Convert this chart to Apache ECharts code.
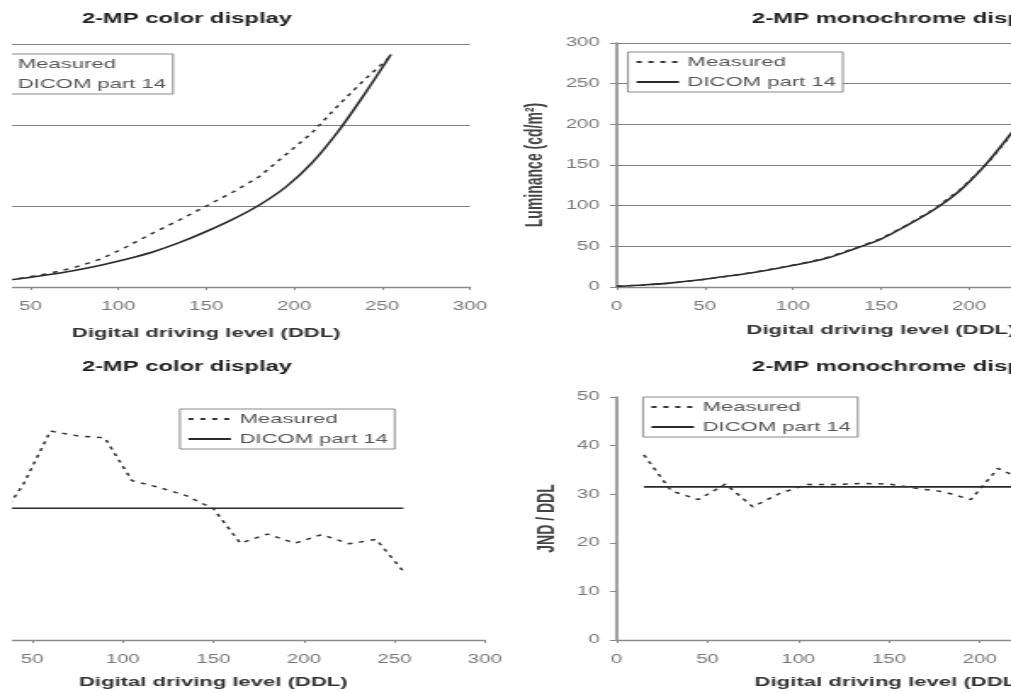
<!DOCTYPE html>
<html>
<head>
<meta charset="utf-8">
<title>2-MP displays: luminance and JND per DDL</title>
<script src="https://cdn.jsdelivr.net/npm/echarts@6/dist/echarts.min.js"></script>
<style>
  html, body { margin: 0; padding: 0; background: #fff; overflow: hidden; }
  /* the source figure is stretched sideways, so draw narrow and widen it */
  #chart { width: 595px; height: 692px; transform: scaleX(1.6992); transform-origin: 0 0; }
</style>
</head>
<body>
<div id="chart"></div>
<script>
// luminance (cd/m2), read every 15 DDL
const ddlColorLum = [30, 45, 60, 75, 90, 105, 120, 135, 150, 165, 180, 195, 210, 225, 240, 255];
const colorLumMeasured = [7, 11, 16.5, 24, 34.5, 50, 67, 83, 100, 117, 136, 163, 190, 224, 256, 285];
const colorLumDicom = [7.5, 10.5, 15, 20.5, 27, 34.5, 43.5, 55, 68.5, 83.5, 101, 123, 153, 192, 238, 287];

const ddlMonoLum = [0, 15, 30, 45, 60, 75, 90, 105, 120, 135, 150, 165, 180, 195, 210, 225];
const monoLumMeasured = [0.8, 2.4, 4.7, 8, 12.3, 17.2, 22.8, 29, 36.5, 47.5, 59.5, 76.5, 95.5, 120, 151, 190];
const monoLumDicom = [0.8, 2.5, 4.8, 8.2, 12.5, 17, 22.5, 28.5, 36, 47, 59, 76, 95, 119, 152, 192];

// JND / DDL
const ddlColorJnd = [30, 45, 60, 75, 90, 105, 120, 135, 150, 165, 180, 195, 210, 225, 240, 255];
const colorJndMeasured = [24, 32, 43, 42, 41.6, 32.8, 31.4, 29.7, 27, 19.9, 21.8, 19.9, 21.7, 19.8, 20.7, 14.1];
const colorJndDicom = [27.1, 27.1, 27.1, 27.1, 27.1, 27.1, 27.1, 27.1, 27.1, 27.1, 27.1, 27.1, 27.1, 27.1, 27.1, 27.1];

const ddlMonoJnd = [15, 30, 45, 60, 75, 90, 105, 120, 135, 150, 165, 180, 195, 210, 225];
const monoJndMeasured = [38.1, 30.7, 28.9, 32.1, 27.4, 30.2, 32, 32, 32.2, 32.1, 31.2, 30.5, 28.9, 35.3, 32.8];
const monoJndDicom = [31.5, 31.5, 31.5, 31.5, 31.5, 31.5, 31.5, 31.5, 31.5, 31.5, 31.5, 31.5, 31.5, 31.5, 31.5];

const titles = ["2-MP color display", "2-MP monochrome display", "2-MP color display", "2-MP monochrome display"];
const xName = "Digital driving level (DDL)";

const font = "Liberation Sans";
const grey = "#8a8a8a";

function pairs(xs, ys) {
  return xs.map((x, i) => [x, ys[i]]);
}

function xAxisFor(i, gap, hideZero) {
  return {
    gridIndex: i,
    type: "value",
    min: 0,
    max: 300,
    interval: 50,
    axisLine: { show: true, lineStyle: { color: grey, width: 1.3 } },
    axisTick: { show: true, length: 3, lineStyle: { color: grey } },
    axisLabel: { margin: 14, fontSize: 12, color: "#777", fontFamily: font, showMinLabel: !hideZero },
    splitLine: { show: false },
    name: xName,
    nameLocation: "middle",
    nameGap: gap,
    nameTextStyle: { fontFamily: font, fontSize: 13, fontWeight: "bold", color: "#333" },
  };
}

function measured(name, x, y, data) {
  return {
    name: name,
    type: "line",
    xAxisIndex: x,
    yAxisIndex: y,
    symbol: "none",
    itemStyle: { color: "#333" },
    lineStyle: { color: "#333", width: 1.5, type: [3, 4] },
    data: data,
  };
}

function dicom(name, x, y, data, smooth) {
  return {
    name: name,
    type: "line",
    xAxisIndex: x,
    yAxisIndex: y,
    symbol: "none",
    smooth: smooth,
    itemStyle: { color: "#2a2a2a" },
    lineStyle: { color: "#2a2a2a", width: 1.6, type: "solid" },
    data: data,
  };
}

const legendBase = {
  orient: "vertical",
  itemWidth: 25,
  itemHeight: 14,
  itemGap: 6,
  padding: [3, 4],
  backgroundColor: "#fff",
  borderColor: grey,
  borderWidth: 1,
  // line only, no marker in the key
  itemStyle: { opacity: 0 },
  textStyle: { fontFamily: font, fontSize: 13, lineHeight: 14, color: "#555" },
  data: ["Measured", "DICOM part 14"],
};

const titleStyle = { fontFamily: font, fontSize: 14, fontWeight: "bold", color: "#222" };

const chart = echarts.init(document.getElementById("chart"));
chart.setOption({
  animation: false,
  backgroundColor: "#fff",
  title: [
    { text: titles[0], left: 110, top: 12, textAlign: "center", padding: 0, textStyle: titleStyle },
    { text: titles[1], left: 442.6, top: 12, padding: 0, textStyle: titleStyle },
    { text: titles[2], left: 110, top: 360, textAlign: "center", padding: 0, textStyle: titleStyle },
    { text: titles[3], left: 442.6, top: 360, padding: 0, textStyle: titleStyle },
  ],
  legend: [
    Object.assign({}, legendBase, { right: 493.2, top: 54 }),
    Object.assign({}, legendBase, { left: 369.6, top: 52 }),
    Object.assign({}, legendBase, { left: 105.9, top: 409 }),
    Object.assign({}, legendBase, { left: 378.4, top: 397 }),
  ],
  grid: [
    { left: -33.84, top: 44, width: 310.4, height: 243, outerBoundsMode: "none" },
    { left: 362.9, top: 43, width: 311.1, height: 244, outerBoundsMode: "none" },
    { left: -34.25, top: 397, width: 319.6, height: 243, outerBoundsMode: "none" },
    { left: 362.9, top: 397, width: 320.6, height: 243, outerBoundsMode: "none" },
  ],
  xAxis: [
    xAxisFor(0, 40, true),
    xAxisFor(1, 37, false),
    xAxisFor(2, 35.5, true),
    xAxisFor(3, 35.5, false),
  ],
  yAxis: [
    {
      gridIndex: 0,
      type: "value",
      min: 0,
      max: 300,
      interval: 100,
      axisLine: { show: false },
      axisTick: { show: false },
      axisLabel: { show: false },
      splitLine: { show: true, lineStyle: { color: "#808080", width: 1.2 } },
    },
    {
      gridIndex: 1,
      type: "value",
      min: 0,
      max: 300,
      interval: 50,
      axisLine: { show: true, lineStyle: { color: grey, width: 1.6 } },
      axisTick: { show: true, length: 4, lineStyle: { color: grey } },
      axisLabel: { margin: 10, fontSize: 12, color: "#777", fontFamily: font },
      splitLine: { show: true, lineStyle: { color: "#808080", width: 1.2 } },
      name: "Luminance (cd/m²)",
      nameLocation: "middle",
      nameGap: 40,
      nameTextStyle: { fontFamily: font, fontSize: 14, fontWeight: "bold", color: "#444" },
    },
    {
      gridIndex: 2,
      type: "value",
      min: 0,
      max: 50,
      interval: 10,
      axisLine: { show: false },
      axisTick: { show: false },
      axisLabel: { show: false },
      splitLine: { show: false },
    },
    {
      gridIndex: 3,
      type: "value",
      min: 0,
      max: 50,
      interval: 10,
      axisLine: { show: true, lineStyle: { color: grey, width: 1.6 } },
      axisTick: { show: true, length: 4, lineStyle: { color: grey } },
      axisLabel: { margin: 10, fontSize: 12, color: "#777", fontFamily: font },
      splitLine: { show: false },
      name: "JND / DDL",
      nameLocation: "middle",
      nameGap: 31,
      nameTextStyle: { fontFamily: font, fontSize: 14, fontWeight: "bold", color: "#444" },
    },
  ],
  series: [
    dicom("DICOM part 14", 0, 0, pairs(ddlColorLum, colorLumDicom), 0.3),
    measured("Measured", 0, 0, pairs(ddlColorLum, colorLumMeasured)),
    dicom("DICOM part 14", 1, 1, pairs(ddlMonoLum, monoLumDicom), 0.3),
    measured("Measured", 1, 1, pairs(ddlMonoLum, monoLumMeasured)),
    dicom("DICOM part 14", 2, 2, pairs(ddlColorJnd, colorJndDicom), false),
    measured("Measured", 2, 2, pairs(ddlColorJnd, colorJndMeasured)),
    dicom("DICOM part 14", 3, 3, pairs(ddlMonoJnd, monoJndDicom), false),
    measured("Measured", 3, 3, pairs(ddlMonoJnd, monoJndMeasured)),
  ],
  // the left plots are cut off in the source, keep that white strip
  graphic: [
    { type: "rect", z: 100, shape: { x: 0, y: 0, width: 7.06, height: 692 }, style: { fill: "#fff" } },
  ],
});
</script>
</body>
</html>
